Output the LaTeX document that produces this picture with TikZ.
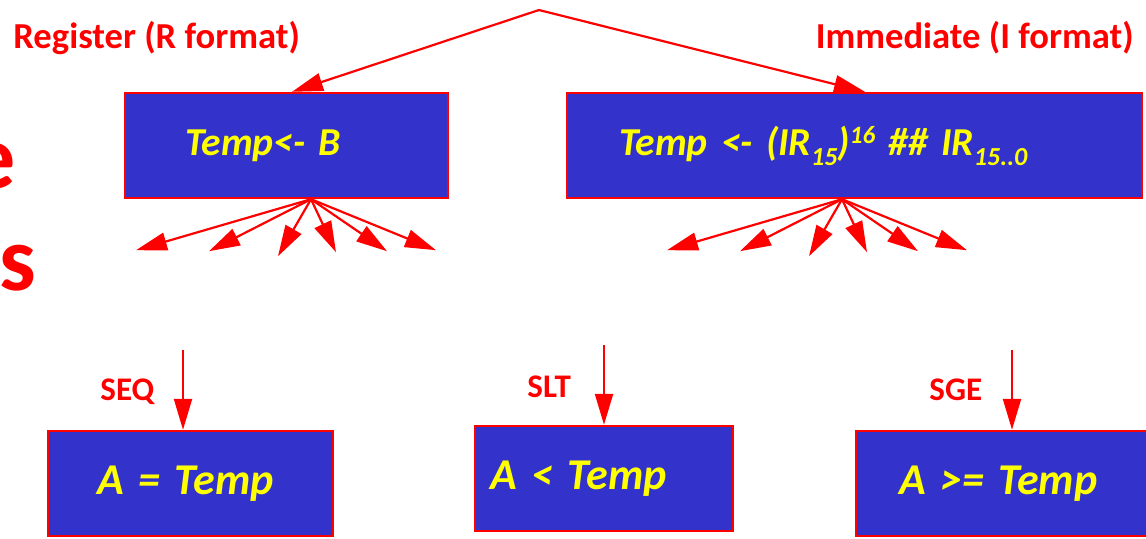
\documentclass[tikz,border=0pt]{standalone}
\usepackage{fontspec}
\setmainfont{Carlito}
\usepackage{tikz}
\usetikzlibrary{arrows.meta}
\definecolor{BoxBlue}{RGB}{51, 51, 204}
\definecolor{LineRed}{RGB}{255, 0, 0}
\definecolor{TextYellow}{RGB}{255, 255, 0}

% lowered / raised indices inside the box text
\newcommand{\lo}[1]{\raisebox{-0.25em}{\fontsize{13}{13}\selectfont #1}}
\newcommand{\hi}[1]{\raisebox{0.3em}{\fontsize{12.5}{12.5}\selectfont #1}}

\begin{document}
\begin{tikzpicture}[x=0.5pt, y=-0.5pt,
    box/.style={draw=LineRed, line width=1.2pt, fill=BoxBlue, text=TextYellow,
      font=\fontsize{19.8}{22}\selectfont\bfseries\itshape, align=left,
      minimum height=52.5pt, inner ysep=0pt},
    bbox/.style={box, font=\fontsize{22}{24}\selectfont\bfseries\itshape},
    lbl/.style={text=LineRed, font=\fontsize{16.5}{18}\selectfont\bfseries, inner sep=0pt},
    toplbl/.style={lbl, font=\fontsize{18.3}{20}\selectfont\bfseries},
    arr/.style={draw=LineRed, line width=1.1pt, -{Triangle[length=15.5pt, width=9pt]}}]
    \useasboundingbox (0,0) rectangle (1146,538);
    \clip (0,0) rectangle (1146,538);

    % Title fragment at the left edge
    \node[text=LineRed, font=\fontsize{46}{50}\selectfont\bfseries, anchor=base east, inner sep=0pt] (ttl1) at (16,188) {e};
    \node[text=LineRed, font=\fontsize{46}{50}\selectfont\bfseries, anchor=base east, inner sep=0pt] (ttl2) at (37,290) {ns};

    % Operand selection
    \node[toplbl, anchor=base west] (rlbl) at (13,48) {Register (R format)};
    \node[toplbl, anchor=base east] (ilbl) at (1134,48) {Immediate (I format)};
    \node[box, inner xsep=30pt, text width=101.5pt] (rbox) at (286.5,145.5) {Temp<- B};
    \node[box, inner xsep=26pt, text width=235.5pt] (ibox) at (854.5,145.5) {Temp <- (IR\lo{15})\hi{16} \#\# IR\lo{15..0}};

    \coordinate (top) at (539,10);
    \draw[arr] (top) -- ([xshift=2.75pt]rbox.north);
    \draw[arr] (top) -- ([xshift=5.25pt]ibox.north);

    % Fan out below both boxes
    \foreach \b/\s in {rbox/12.25pt, ibox/-6.25pt}
      \foreach \dx/\dy in {-175/51, -102/52, -33/57, 25/53, 76/52, 125/51}
        \draw[arr] ([xshift=\s]\b.south) -- ++(\dx,\dy);

    % Compare operations
    \node[bbox, inner xsep=24.5pt, text width=93.5pt] (eqbox) at (190.5,483.5) {A = Temp};
    \node[bbox, inner xsep=7.5pt, text width=114pt] (ltbox) at (604,478.5) {A < Temp};
    \node[bbox, inner xsep=21.5pt, text width=113pt] (gebox) at (1012,483.5) {A >= Temp};

    \node[lbl, anchor=base west] (seq) at (100,400) {SEQ};
    \node[lbl, anchor=base west] (slt) at (527,397) {SLT};
    \node[lbl, anchor=base west] (sge) at (929,400) {SGE};

    \coordinate (seqin) at (183,350);
    \coordinate (sltin) at (604,345);
    \coordinate (sgein) at (1012,350);
    \draw[arr] (seqin) -- (seqin |- eqbox.north);
    \draw[arr] (sltin) -- (sltin |- ltbox.north);
    \draw[arr] (sgein) -- (sgein |- gebox.north);
\end{tikzpicture}
\end{document}
